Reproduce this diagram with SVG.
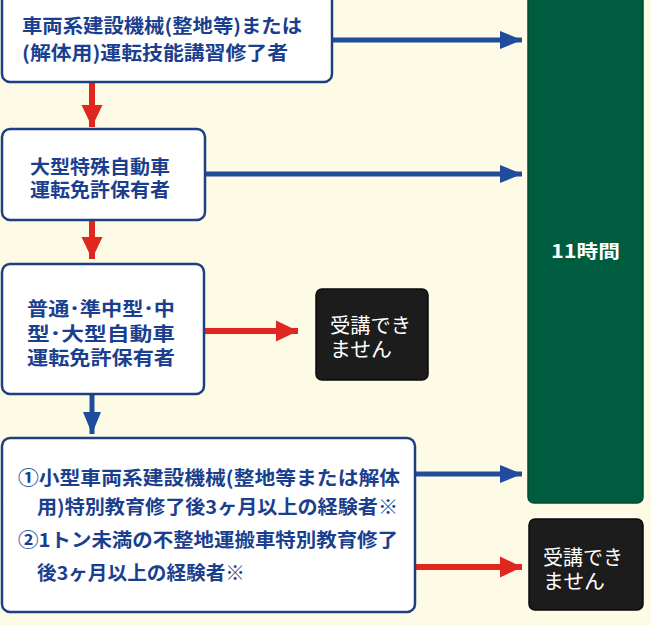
<svg xmlns="http://www.w3.org/2000/svg" width="651" height="625" viewBox="0 0 651 625">
<style>
.box{fill:#ffffff;stroke:#1e3f80;stroke-width:2.5}
.bt{font-family:"Noto Sans CJK JP","Noto Sans",sans-serif;font-weight:bold;fill:#1b3f8f}
.wt{font-family:"Noto Sans CJK JP","Noto Sans",sans-serif;fill:#ffffff}
.blk{fill:#1c1c1c;stroke:#0a0a0a;stroke-width:1.5}
.bl{stroke:#1f4c9c;stroke-width:5;fill:none}
.rd{stroke:#e0271f;stroke-width:6;fill:none}
</style>
<defs>
<marker id="ab" markerUnits="userSpaceOnUse" markerWidth="24" markerHeight="22" refX="22" refY="11" orient="auto"><path d="M0,2 L22,11 L0,20 Z" fill="#1f4c9c"/></marker>
<marker id="ar" markerUnits="userSpaceOnUse" markerWidth="24" markerHeight="24" refX="22" refY="11" orient="auto"><path d="M0,0.5 L22,11 L0,21.5 Z" fill="#e0271f"/></marker>
</defs>
<rect width="651" height="625" fill="#fdfbe6"/>
<g id="connectors">
<line class="bl" x1="332" y1="40" x2="522" y2="40" marker-end="url(#ab)"/>
<line class="bl" x1="205" y1="174" x2="522" y2="174" marker-end="url(#ab)"/>
<line class="bl" x1="415" y1="474" x2="522" y2="474" marker-end="url(#ab)"/>
<line class="rd" x1="92" y1="83" x2="92" y2="127" marker-end="url(#ar)"/>
<line class="rd" x1="92" y1="221" x2="92" y2="259" marker-end="url(#ar)"/>
<line class="rd" x1="205" y1="331" x2="298" y2="331" marker-end="url(#ar)"/>
<line class="bl" x1="92" y1="395" x2="92" y2="434" marker-end="url(#ab)"/>
<line class="rd" x1="415" y1="567" x2="522" y2="567" marker-end="url(#ar)"/>
</g>
<g id="n1">
<rect class="box" x="2" y="-8" width="330" height="90" rx="8"/>
<text class="bt" x="22" y="33" font-size="19" textLength="280" lengthAdjust="spacingAndGlyphs">車両系建設機械(整地等)または</text>
<text class="bt" x="22" y="60" font-size="19" textLength="266" lengthAdjust="spacingAndGlyphs">(解体用)運転技能講習修了者</text>
</g>
<g id="n2">
<rect class="box" x="2" y="129" width="203" height="91" rx="8"/>
<text class="bt" x="30" y="174" font-size="19" textLength="140" lengthAdjust="spacingAndGlyphs">大型特殊自動車</text>
<text class="bt" x="30" y="197" font-size="19" textLength="140" lengthAdjust="spacingAndGlyphs">運転免許保有者</text>
</g>
<g id="n3">
<rect class="box" x="2" y="264" width="202" height="130" rx="8"/>
<text class="bt" x="27" y="316" font-size="19" textLength="148" lengthAdjust="spacingAndGlyphs">普通･準中型･中</text>
<text class="bt" x="27" y="341" font-size="19" textLength="148" lengthAdjust="spacingAndGlyphs">型･大型自動車</text>
<text class="bt" x="27" y="365" font-size="19" textLength="148" lengthAdjust="spacingAndGlyphs">運転免許保有者</text>
</g>
<g id="n4">
<rect class="box" x="2" y="438" width="413" height="174" rx="8"/>
<text class="bt" x="18" y="485" font-size="19" textLength="382" lengthAdjust="spacingAndGlyphs">①小型車両系建設機械(整地等または解体</text>
<text class="bt" x="37" y="514" font-size="19" textLength="361" lengthAdjust="spacingAndGlyphs">用)特別教育修了後3ヶ月以上の経験者※</text>
<text class="bt" x="18" y="547" font-size="19" textLength="380" lengthAdjust="spacingAndGlyphs">②1トン未満の不整地運搬車特別教育修了</text>
<text class="bt" x="37" y="580" font-size="19" textLength="208" lengthAdjust="spacingAndGlyphs">後3ヶ月以上の経験者※</text>
</g>
<g id="n5">
<rect x="528" y="-8" width="115" height="511" rx="6" fill="#005c3e" stroke="#004a32" stroke-width="1.5"/>
<text class="wt" x="551" y="258" font-size="18" font-weight="bold" textLength="69" lengthAdjust="spacingAndGlyphs">11時間</text>
</g>
<g id="n6">
<rect class="blk" x="316" y="289" width="112" height="91" rx="6"/>
<text class="wt" x="330" y="333" font-size="20" textLength="81" lengthAdjust="spacingAndGlyphs">受講でき</text>
<text class="wt" x="330" y="357" font-size="20" textLength="62" lengthAdjust="spacingAndGlyphs">ません</text>
</g>
<g id="n7">
<rect class="blk" x="529" y="519" width="114" height="91" rx="6"/>
<text class="wt" x="543" y="565" font-size="20" textLength="80" lengthAdjust="spacingAndGlyphs">受講でき</text>
<text class="wt" x="543" y="589" font-size="20" textLength="62" lengthAdjust="spacingAndGlyphs">ません</text>
</g>
</svg>
